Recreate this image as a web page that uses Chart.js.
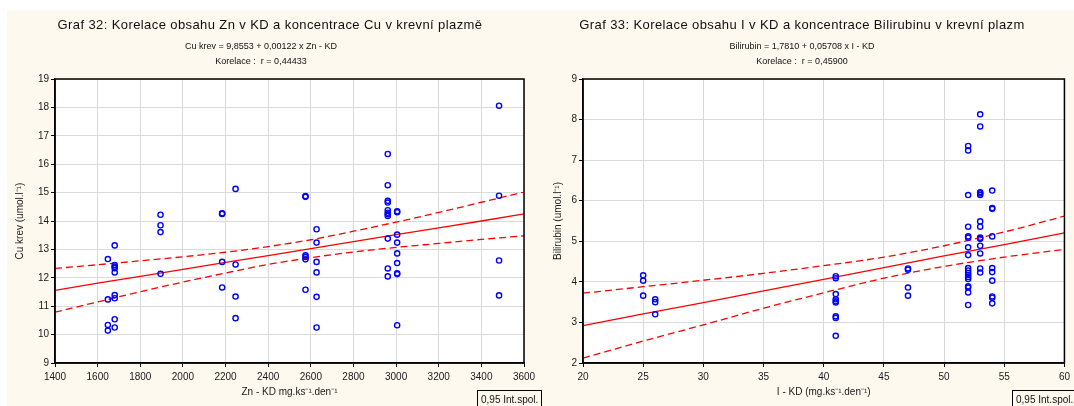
<!DOCTYPE html>
<html lang="cs">
<head>
<meta charset="UTF-8">
<title>Graf 32 a Graf 33</title>
<script src="https://cdn.jsdelivr.net/npm/chart.js"></script>
<style>
    body {
        margin: 0;
        background: #fff;
        font-family: 'Liberation Sans', Arial, sans-serif;
    }
    .pozadi {
        position: absolute;
        left: 7px;
        top: 10px;
        width: 1067px;
        height: 396px;
        background: #fdf9ef;
    }
    .panel {
        position: absolute;
        top: 0;
    }
    .spol {
        position: absolute;
        top: 390px;
        height: 18px;
        border: 1px solid #000;
        border-bottom: none;
        font-size: 10px;
        line-height: 17px;
        padding: 0 3px;
        color: #111;
        white-space: nowrap;
    }
</style>
</head>
<body>
<div class="pozadi"></div>
<canvas class="panel" id="graf32" width="540" height="406" style="left:0"></canvas>
<canvas class="panel" id="graf33" width="534" height="406" style="left:540px"></canvas>
<div class="spol" style="left:477px">0,95 Int.spol.</div>
<div class="spol" style="left:1012px">0,95 Int.spol.</div>

<script>
// Graf 32 - Zn v KD vs Cu v krevni plazme
var znKD = [1648, 1648, 1648, 1648,
    1680, 1680, 1680, 1680, 1680, 1680, 1680, 1680, 1680,
    1895, 1895, 1895, 1895,
    2184, 2184, 2184, 2184,
    2247, 2247, 2247, 2247,
    2575, 2575, 2575, 2575, 2575, 2575,
    2627, 2627, 2627, 2627, 2627, 2627,
    2961, 2961, 2961, 2961, 2961, 2961, 2961, 2961, 2961, 2961, 2961,
    3005, 3005, 3005, 3005, 3005, 3005, 3005, 3005, 3005,
    3483, 3483, 3483, 3483];
var cuKrev = [12.66, 11.24, 10.34, 10.14,
    13.14, 12.45, 12.39, 12.34, 12.19, 11.39, 11.28, 10.54, 10.25,
    14.22, 13.85, 13.61, 12.14,
    14.27, 14.25, 12.56, 11.66,
    15.13, 12.47, 11.34, 10.58,
    14.88, 14.85, 12.79, 12.73, 12.65, 11.58,
    13.71, 13.24, 12.56, 12.19, 11.33, 10.25,
    16.36, 15.26, 14.71, 14.65, 14.38, 14.29, 14.24, 14.18, 13.38, 12.33, 12.05,
    14.34, 14.31, 13.52, 13.24, 12.86, 12.52, 12.16, 12.13, 10.33,
    18.06, 14.89, 12.61, 11.38];
// primka a pas spolehlivosti
var znOsa = [1400, 1600, 1800, 2000, 2200, 2400, 2600, 2800, 3000, 3200, 3400, 3600];
var cuPrimka = [11.56, 11.81, 12.05, 12.30, 12.54, 12.78, 13.03, 13.27, 13.52, 13.76, 14.00, 14.25];
var cuHorni = [12.33, 12.46, 12.60, 12.74, 12.90, 13.10, 13.34, 13.64, 13.96, 14.30, 14.66, 15.02];
var cuDolni = [10.79, 11.15, 11.51, 11.85, 12.17, 12.47, 12.71, 12.91, 13.07, 13.21, 13.35, 13.48];
var texty32 = ['Graf 32: Korelace obsahu Zn v KD a koncentrace Cu v krevní plazmě',
    'Cu krev = 9,8553 + 0,00122 x Zn - KD',
    'Korelace :  r = 0,44433'];

// Graf 33 - I v KD vs Bilirubin
var iKD = [25, 25, 25, 26, 26, 26,
    41, 41, 41, 41, 41, 41, 41, 41, 41,
    47, 47, 47, 47,
    52, 52, 52, 52, 52, 52, 52, 52, 52, 52, 52, 52, 52, 52, 52, 52, 52, 52,
    53, 53, 53, 53, 53, 53, 53, 53, 53, 53, 53, 53, 53,
    54, 54, 54, 54, 54, 54, 54, 54, 54, 54];
var bilirubin = [4.16, 4.03, 3.66, 3.57, 3.50, 3.20,
    4.14, 4.09, 3.70, 3.57, 3.52, 3.49, 3.15, 3.11, 2.67,
    4.33, 4.30, 3.86, 3.66,
    7.35, 7.24, 6.14, 5.36, 5.12, 5.09, 4.85, 4.66, 4.34, 4.28, 4.22, 4.17, 4.12, 4.07, 3.89, 3.86, 3.74, 3.43,
    8.13, 7.83, 6.21, 6.18, 6.14, 5.49, 5.36, 5.09, 5.06, 4.89, 4.70, 4.33, 4.23,
    6.25, 5.82, 5.80, 5.12, 4.34, 4.24, 4.03, 3.64, 3.61, 3.47];
var iOsa = [20, 25, 30, 35, 40, 45, 50, 55, 60];
var biliPrimka = [2.92, 3.21, 3.49, 3.78, 4.06, 4.35, 4.64, 4.92, 5.21];
var biliHorni = [3.72, 3.88, 4.04, 4.21, 4.40, 4.61, 4.89, 5.23, 5.62];
var biliDolni = [2.12, 2.54, 2.94, 3.35, 3.73, 4.09, 4.38, 4.61, 4.80];
var texty33 = ['Graf 33: Korelace obsahu I v KD a koncentrace Bilirubinu v krevní plazm',
    'Bilirubin = 1,7810 + 0,05708 x I - KD',
    'Korelace :  r = 0,45900'];

var PISMO = "'Liberation Sans', Arial, sans-serif";
Chart.defaults.font.family = PISMO;
Chart.defaults.font.size = 10;
Chart.defaults.color = '#1a1a1a';

function body(xs, ys) {
    var out = [];
    for (var i = 0; i < xs.length; i++) {
        out.push({ x: xs[i], y: ys[i] });
    }
    return out;
}

// bile pole grafu, ramecek a nadpisy
var ramecek = {
    id: 'ramecek',
    beforeDraw: function(chart) {
        var a = chart.chartArea, ctx = chart.ctx;
        ctx.save();
        ctx.fillStyle = '#fff';
        ctx.fillRect(a.left, a.top, a.right - a.left, a.bottom - a.top);
        ctx.restore();
    },
    afterDraw: function(chart, args, opts) {
        var a = chart.chartArea, ctx = chart.ctx;
        ctx.save();
        ctx.strokeStyle = '#000';
        ctx.lineWidth = 1.5;
        ctx.strokeRect(a.left, a.top, a.right - a.left, a.bottom - a.top);
        ctx.fillStyle = '#111';
        ctx.textAlign = 'center';
        ctx.textBaseline = 'middle';
        ctx.font = '13px ' + PISMO;
        ctx.letterSpacing = '0.4px';
        ctx.fillText(opts.texty[0], opts.stredNadpis, 25);
        ctx.letterSpacing = '0px';
        ctx.font = '9px ' + PISMO;
        ctx.fillText(opts.texty[1], opts.stredRovnice, 47);
        ctx.fillText(opts.texty[2], opts.stredRovnice, 62);
        ctx.restore();
    }
};

function vytvorGraf(id, cfg) {
    var ctx = document.getElementById(id).getContext('2d');
    return new Chart(ctx, {
        type: 'scatter',
        data: {
            datasets: [{
                data: body(cfg.x, cfg.y),
                pointStyle: 'circle',
                pointRadius: 2.6,
                pointBorderWidth: 1.4,
                pointBorderColor: '#0000ff',
                pointBackgroundColor: 'rgba(0,0,0,0)'
            }, {
                type: 'line',
                data: body(cfg.osa, cfg.primka),
                borderColor: '#ff0000',
                borderWidth: 1.3,
                pointRadius: 0
            }, {
                type: 'line',
                data: body(cfg.osa, cfg.horni),
                borderColor: '#ff0000',
                borderWidth: 1.3,
                borderDash: [7, 4],
                cubicInterpolationMode: 'monotone',
                pointRadius: 0
            }, {
                type: 'line',
                data: body(cfg.osa, cfg.dolni),
                borderColor: '#ff0000',
                borderWidth: 1.3,
                borderDash: [7, 4],
                cubicInterpolationMode: 'monotone',
                pointRadius: 0
            }]
        },
        options: {
            responsive: false,
            animation: false,
            layout: { padding: { top: 79, right: cfg.pravy, bottom: 0, left: 0 } },
            plugins: {
                legend: { display: false },
                tooltip: { enabled: false },
                ramecek: { texty: cfg.texty, stredNadpis: cfg.stredNadpis, stredRovnice: cfg.stredRovnice }
            },
            scales: {
                x: {
                    type: 'linear',
                    min: cfg.xMin,
                    max: cfg.xMax,
                    ticks: {
                        stepSize: cfg.xKrok,
                        padding: 4,
                        maxRotation: 0,
                        callback: function(v) { return String(v); }
                    },
                    grid: { color: '#dadada', tickColor: '#000', tickLength: 4 },
                    border: { color: '#000', width: 1.5 },
                    title: { display: true, text: cfg.xTitul, font: { size: 10 }, padding: { top: 0, bottom: 8 } },
                    afterFit: function(s) { s.height = 43; }
                },
                y: {
                    min: cfg.yMin,
                    max: cfg.yMax,
                    ticks: { stepSize: 1, padding: 2 },
                    grid: { color: '#dadada', tickColor: '#000', tickLength: 4 },
                    border: { color: '#000', width: 1.5 },
                    title: { display: true, text: cfg.yTitul, font: { size: 10 }, padding: { top: cfg.yTitulOdsaz, bottom: 0 } },
                    afterFit: function(s) { s.width = cfg.osaY; }
                }
            }
        },
        plugins: [ramecek]
    });
}

vytvorGraf('graf32', {
    x: znKD, y: cuKrev, osa: znOsa, primka: cuPrimka, horni: cuHorni, dolni: cuDolni,
    xMin: 1400, xMax: 3600, xKrok: 200, yMin: 9, yMax: 19,
    xTitul: 'Zn - KD mg.ks⁻¹.den⁻¹', yTitul: 'Cu krev (umol.l⁻¹)',
    osaY: 55, pravy: 16, yTitulOdsaz: 14,
    texty: texty32, stredNadpis: 270, stredRovnice: 261
});

vytvorGraf('graf33', {
    x: iKD, y: bilirubin, osa: iOsa, primka: biliPrimka, horni: biliHorni, dolni: biliDolni,
    xMin: 20, xMax: 60, xKrok: 5, yMin: 2, yMax: 9,
    xTitul: 'I - KD (mg.ks⁻¹.den⁻¹)', yTitul: 'Bilirubin (umol.l⁻¹)',
    osaY: 43, pravy: 9, yTitulOdsaz: 12,
    texty: texty33, stredNadpis: 262, stredRovnice: 262
});
</script>
</body>
</html>
